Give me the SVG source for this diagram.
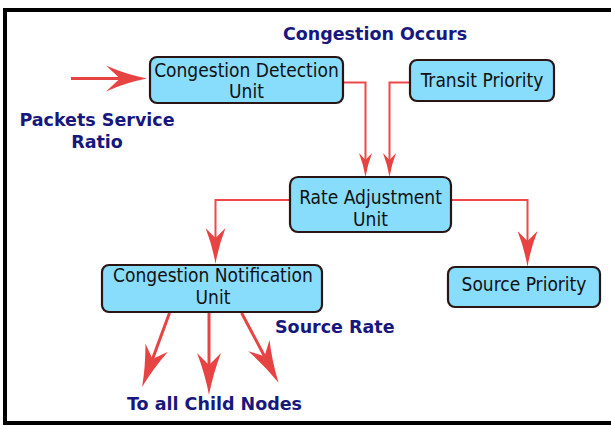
<svg xmlns="http://www.w3.org/2000/svg" width="611" height="426" viewBox="0 0 611 426">
  <style>
    .frame { fill: none; stroke: #000; stroke-width: 4; }
    .box { fill: #88dcfc; stroke: #2a1414; stroke-width: 2.2; }
    .ntext { font-family: "DejaVu Sans Condensed", "DejaVu Sans", sans-serif; font-stretch: condensed; font-size: 19px; fill: #111; text-anchor: middle; }
    .label { font-family: "DejaVu Sans", Verdana, sans-serif; font-weight: bold; font-size: 17.5px; fill: #17177e; }
    .wire { fill: none; stroke: #ee4848; stroke-width: 2; }
    .thick { fill: none; stroke: #e84343; stroke-width: 3; }
  </style>
  <defs>
    <!-- barbed heads; refX sits at the notch so the line ends inside the head -->
    <marker id="headS" markerUnits="userSpaceOnUse" markerWidth="24" markerHeight="13" viewBox="0 0 24 13" refX="7" refY="6.5" orient="auto">
      <path d="M0,0 Q12,4.5 24,6.5 Q12,8.5 0,13 L7,6.5 Z" fill="#e84343"/>
    </marker>
    <marker id="headM" markerUnits="userSpaceOnUse" markerWidth="36" markerHeight="20" viewBox="0 0 36 20" refX="10" refY="10" orient="auto">
      <path d="M0,0 Q18,7 36,10 Q18,13 0,20 L10,10 Z" fill="#e84343"/>
    </marker>
    <marker id="headL" markerUnits="userSpaceOnUse" markerWidth="42" markerHeight="24" viewBox="0 0 42 24" refX="12" refY="12" orient="auto">
      <path d="M0,0 Q21,8 42,12 Q21,16 0,24 L12,12 Z" fill="#e84343"/>
    </marker>
    <marker id="headIn" markerUnits="userSpaceOnUse" markerWidth="41" markerHeight="26" viewBox="0 0 41 26" refX="14" refY="13" orient="auto">
      <path d="M0,0 Q20,9 41,13 Q20,17 0,26 L14,13 Z" fill="#e84343"/>
    </marker>
  </defs>

  <rect width="611" height="426" fill="#fff"/>
  <rect class="frame" x="5" y="10" width="650" height="413"/>

  <!-- free labels -->
  <text class="label" x="375" y="40" text-anchor="middle">Congestion Occurs</text>
  <text class="label" x="97" y="126" text-anchor="middle">Packets Service</text>
  <text class="label" x="97" y="148" text-anchor="middle">Ratio</text>
  <text class="label" x="275" y="333">Source Rate</text>
  <text class="label" x="214.5" y="410" text-anchor="middle">To all Child Nodes</text>

  <g id="connectors">
    <path class="thick" d="M71,78.5 H120" marker-end="url(#headIn)"/>
    <path class="wire" d="M343,82.5 H365.5 V160" marker-end="url(#headS)"/>
    <path class="wire" d="M410,82.5 H389.5 V160" marker-end="url(#headS)"/>
    <path class="wire" d="M290,200 H215.5 V238" marker-end="url(#headM)"/>
    <path class="wire" d="M451,200 H527.5 V241" marker-end="url(#headM)"/>
    <path class="thick" d="M169.5,313 L152.5,358.9" marker-end="url(#headL)"/>
    <path class="thick" d="M209,313 L209,365" marker-end="url(#headL)"/>
    <path class="thick" d="M241.6,313 L264.5,356.2" marker-end="url(#headL)"/>
  </g>

  <g id="detection">
    <rect class="box" x="150" y="57" width="193" height="46" rx="7"/>
    <text class="ntext" x="246.5" y="77">Congestion Detection</text>
    <text class="ntext" x="246.5" y="98">Unit</text>
  </g>
  <g id="transit">
    <rect class="box" x="410" y="60" width="144" height="41" rx="7"/>
    <text class="ntext" x="482" y="87">Transit Priority</text>
  </g>
  <g id="rate">
    <rect class="box" x="290" y="177" width="161" height="55" rx="8"/>
    <text class="ntext" x="370.5" y="204">Rate Adjustment</text>
    <text class="ntext" x="370.5" y="226">Unit</text>
  </g>
  <g id="notification">
    <rect class="box" x="102" y="265" width="220" height="47" rx="7"/>
    <text class="ntext" x="213" y="282">Congestion Notification</text>
    <text class="ntext" x="213" y="304">Unit</text>
  </g>
  <g id="source">
    <rect class="box" x="448" y="267" width="152" height="40" rx="7"/>
    <text class="ntext" x="524" y="291">Source Priority</text>
  </g>
</svg>
